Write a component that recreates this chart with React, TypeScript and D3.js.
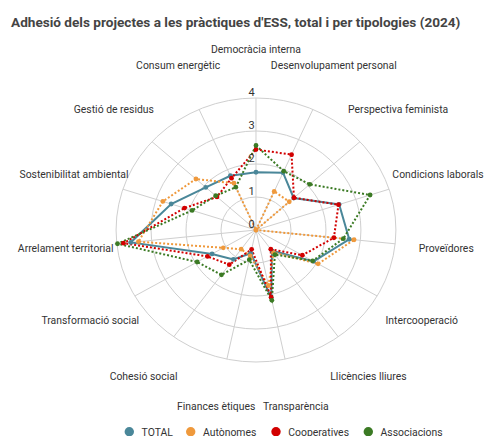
import React, { useRef, useEffect } from 'react';
import * as d3 from 'd3';

const TITLE = "Adhesió dels projectes a les pràctiques d'ESS, total i per tipologies (2024)";

const axes = [
  "Democràcia interna", "Desenvolupament personal", "Perspectiva feminista", "Condicions laborals",
  "Proveïdores", "Intercooperació", "Llicències lliures", "Transparència", "Finances ètiques",
  "Cohesió social", "Transformació social", "Arrelament territorial", "Sostenibilitat ambiental",
  "Gestió de residus", "Consum energètic"
];

const total = [1.75, 1.9, 1.45, 2.5, 2.68, 1.9, 0.78, 2.1, 0.72, 1.1, 1.45, 3.6, 2.55, 1.93, 1.8];
const autonomes = [0, 1.28, 1.28, 0, 2.82, 2.05, 0.85, 1.72, 0.8, 0.72, 1.08, 3.38, 2.8, 2.31, 1.55];
const cooperatives = [2.44, 2.5, 1.46, 2.48, 2.24, 1.53, 0.72, 2.08, 0.6, 1.3, 1.6, 3.81, 2.15, 1.5, 1.72];
const associacions = [2.56, 1.95, 2.07, 3.43, 2.51, 1.87, 0.92, 2.18, 0.92, 1.68, 1.94, 3.98, 1.92, 1.55, 1.42];

const seriesNames = ["TOTAL", "Autònomes", "Cooperatives", "Associacions"];
const ticks = [0, 1, 2, 3, 4];

export default function App() {
  const svgRef = useRef<SVGSVGElement>(null);

  useEffect(() => {
    document.body.style.margin = "0";
    const svg = d3.select(svgRef.current);
    svg.selectAll("*").remove();

    const width = 487;
    const height = 436;
    const stretch = 1.06; // the plot in the reference is a bit wider than tall
    const cx = 241.5 * stretch;
    const cy = 230;
    const font = "Roboto, 'Noto Sans', sans-serif";

    const series = [
      { name: seriesNames[0], values: total, color: "#4a8799", dash: null },
      { name: seriesNames[1], values: autonomes, color: "#ef993c", dash: "2,2" },
      { name: seriesNames[2], values: cooperatives, color: "#d20000", dash: "2,2" },
      { name: seriesNames[3], values: associacions, color: "#3b7a24", dash: "2,2" },
    ];

    svg.append("text")
      .attr("x", 11)
      .attr("y", 26.5)
      .attr("font-family", font)
      .attr("font-weight", "bold")
      .attr("font-size", 13.6)
      .attr("fill", "#444")
      .text(TITLE);

    const r = d3.scaleLinear().domain([0, 4]).range([0, 132]);
    const angle = d3.scaleLinear().domain([0, axes.length]).range([0, 2 * Math.PI]);
    const px = (v: number, i: number) => stretch * r(v) * Math.sin(angle(i));
    const py = (v: number, i: number) => -r(v) * Math.cos(angle(i));

    // geometry group (stretched horizontally), text group (not stretched)
    const geo = svg.append("g").attr("transform", `translate(${cx},${cy}) scale(${stretch},1)`);
    const txt = svg.append("g").attr("transform", `translate(${cx},${cy})`);

    // grid rings
    geo.selectAll(".ring")
      .data(ticks.slice(1))
      .join("circle")
      .attr("r", d => r(d))
      .attr("fill", "none")
      .attr("stroke", "#cfcfcf")
      .attr("stroke-width", 1)
      .attr("vector-effect", "non-scaling-stroke");

    // spokes
    geo.selectAll(".spoke")
      .data(axes)
      .join("line")
      .attr("x1", 0)
      .attr("y1", 0)
      .attr("x2", (d, i) => r(4) * Math.sin(angle(i)))
      .attr("y2", (d, i) => -r(4) * Math.cos(angle(i)))
      .attr("stroke", "#cfcfcf")
      .attr("stroke-width", 1)
      .attr("vector-effect", "non-scaling-stroke");

    // axis names
    txt.selectAll(".axis-name")
      .data(axes)
      .join("text")
      .attr("x", (d, i) => px(5.47, i))
      .attr("y", (d, i) => py(5.47, i))
      .attr("text-anchor", "middle")
      .attr("dominant-baseline", "central")
      .attr("font-family", font)
      .attr("font-size", 10.4)
      .attr("fill", "#333")
      .text(d => d);

    // tick labels
    txt.selectAll(".tick")
      .data(ticks)
      .join("text")
      .attr("x", -4.5)
      .attr("y", d => -r(d) - 2)
      .attr("text-anchor", "middle")
      .attr("font-family", font)
      .attr("font-size", 11)
      .attr("fill", "#333")
      .text(d => d);

    const line = d3.lineRadial<number>()
      .angle((d, i) => angle(i))
      .radius(d => r(d))
      .curve(d3.curveLinearClosed);

    series.forEach(s => {
      geo.append("path")
        .datum(s.values)
        .attr("d", line)
        .attr("fill", "none")
        .attr("stroke", s.color)
        .attr("stroke-width", 2)
        .attr("stroke-dasharray", s.dash)
        .attr("vector-effect", "non-scaling-stroke");

      txt.selectAll(null)
        .data(s.values)
        .join("circle")
        .attr("cx", (d, i) => px(d, i))
        .attr("cy", (d, i) => py(d, i))
        .attr("r", 2.4)
        .attr("fill", s.color);
    });

    // legend
    const legendX = [129.3, 190.7, 276, 368.3];
    const legend = svg.append("g").attr("transform", `translate(0,431.7)`);
    series.forEach((s, i) => {
      legend.append("circle")
        .attr("cx", legendX[i])
        .attr("cy", 0)
        .attr("r", 4.7)
        .attr("fill", s.color);
      legend.append("text")
        .attr("x", legendX[i] + 12.3)
        .attr("y", 3.8)
        .attr("font-family", font)
        .attr("font-size", 10.4)
        .attr("fill", "#333")
        .text(s.name);
    });

    svg.attr("width", width).attr("height", height);
  }, []);

  return <svg ref={svgRef} width={487} height={436} style={{ display: "block" }} />;
}
